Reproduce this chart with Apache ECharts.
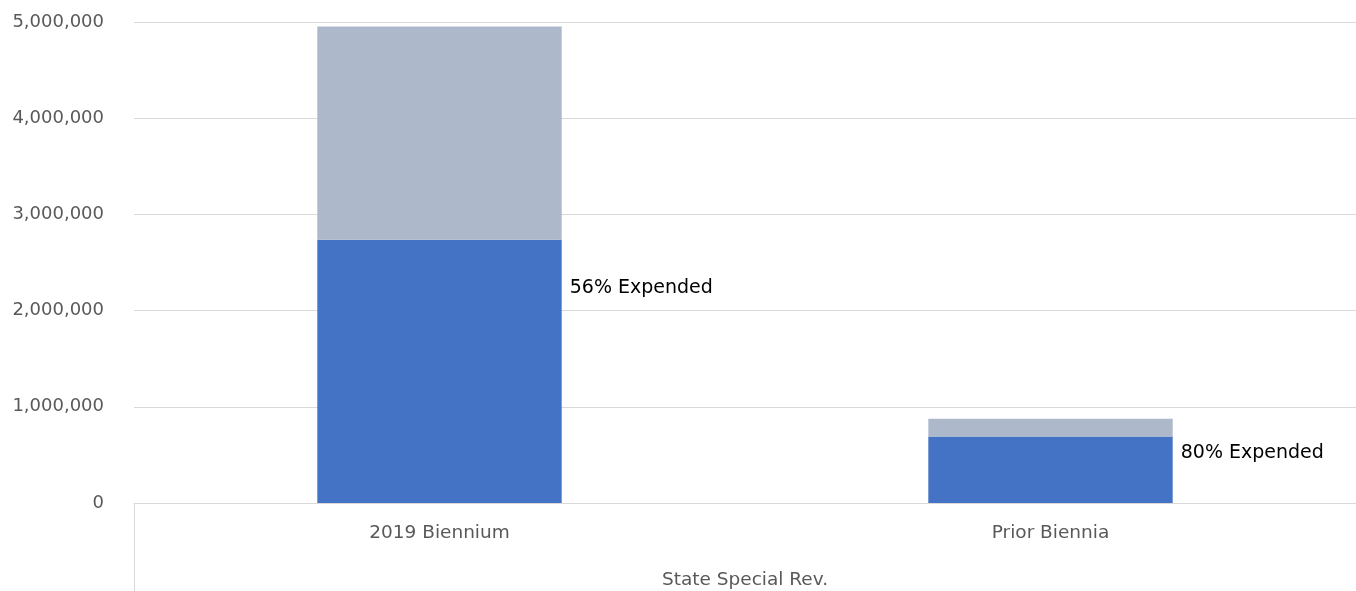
<!DOCTYPE html>
<html>
<head>
<meta charset="utf-8">
<script src="https://cdn.jsdelivr.net/npm/echarts@6/dist/echarts.min.js"></script>
<style>
  html, body { margin: 0; padding: 0; background: #fff; }
  #chart { width: 1356px; height: 591px; }
</style>
</head>
<body>
<div id="chart"></div>
<script>
var chartDom = document.getElementById('chart');
var myChart = echarts.init(chartDom);

// data
const categories = ['2019 Biennium', 'Prior Biennia'];
const groupName = ['State Special Rev.'];
const expended = [2737000, 692000];
const remaining = [2217000, 184000];
const pctLabels = ['56% Expended', '80% Expended'];

const colors = {
  expended: '#4472C4',
  remaining: '#ADB9CA',
  grid: '#D9D9D9',
  text: '#595959'
};
const fontFamily = 'DejaVu Sans';

// label offsets so the text sits where the reference has it
const labelOffsets = [[0, -83], [0, -17]];

var option = {
  animation: false,
  textStyle: { fontFamily: fontFamily },
  grid: { left: 134, right: 0, top: 22, bottom: 88, containLabel: false },
  xAxis: [
    {
      type: 'category',
      data: categories,
      axisLine: { show: true, lineStyle: { color: colors.grid, width: 1 } },
      axisTick: { show: false },
      axisLabel: { color: colors.text, fontSize: 18.5, margin: 21, fontFamily: fontFamily }
    },
    {
      type: 'category',
      data: groupName,
      position: 'bottom',
      axisLine: { show: false },
      axisTick: { show: true, length: 88, alignWithLabel: false, lineStyle: { color: colors.grid, width: 1 } },
      axisLabel: { color: colors.text, fontSize: 18.5, margin: 68, fontFamily: fontFamily }
    }
  ],
  yAxis: {
    type: 'value',
    min: 0,
    max: 5000000,
    interval: 1000000,
    axisLine: { show: false },
    axisTick: { show: false },
    splitLine: { lineStyle: { color: colors.grid, width: 1 } },
    axisLabel: {
      color: colors.text, fontSize: 18, margin: 30, fontFamily: fontFamily,
      formatter: (v) => v.toLocaleString('en-US')
    }
  },
  series: [
    {
      name: 'Expended',
      type: 'bar',
      stack: 'total',
      barWidth: '40%',
      itemStyle: { color: colors.expended },
      data: expended.map((v, i) => ({
        value: v,
        label: { offset: labelOffsets[i] }
      })),
      label: {
        show: true,
        position: 'right',
        distance: 8,
        color: '#000',
        fontSize: 19,
        fontFamily: fontFamily,
        formatter: (p) => pctLabels[p.dataIndex]
      }
    },
    {
      name: 'Remaining',
      type: 'bar',
      stack: 'total',
      barWidth: '40%',
      itemStyle: { color: colors.remaining },
      data: remaining
    }
  ]
};

option && myChart.setOption(option);

window.addEventListener('resize', function() {
  myChart.resize();
});
</script>
</body>
</html>
